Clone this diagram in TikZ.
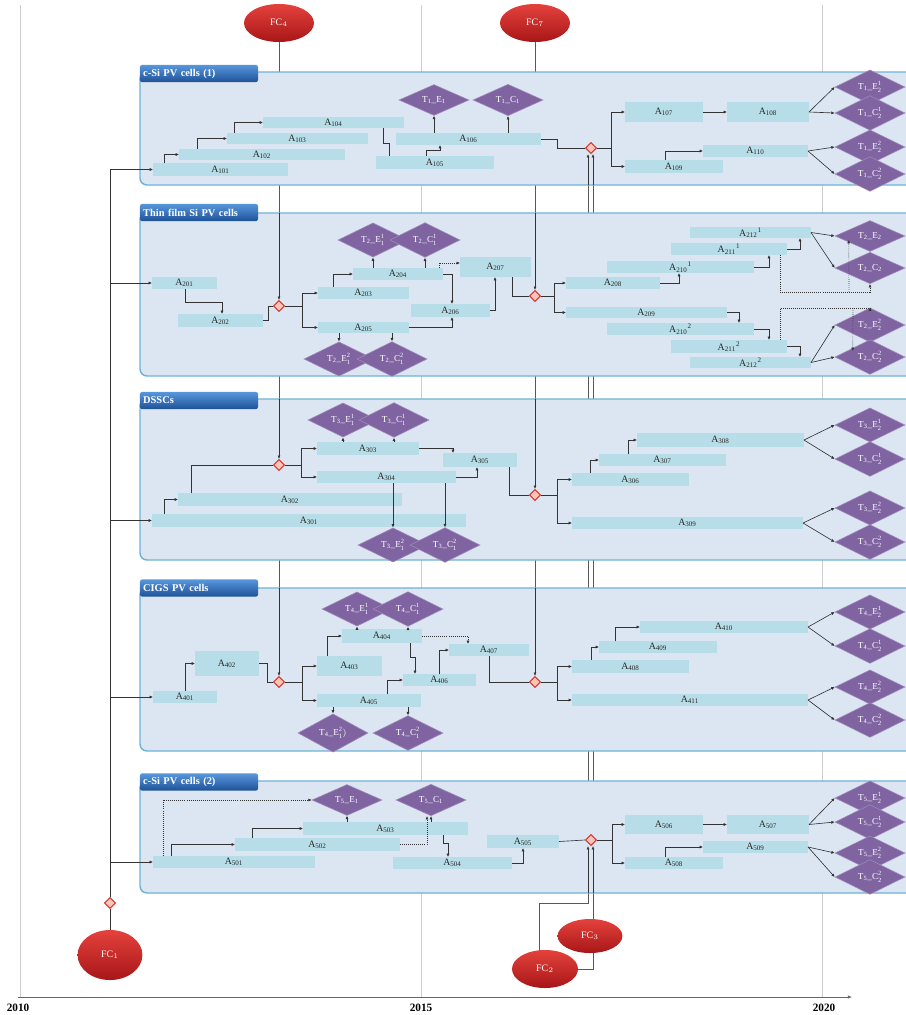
\documentclass[tikz,border=0pt]{standalone}
\usepackage{fontspec}
\setmainfont{Liberation Serif}
\usetikzlibrary{arrows.meta,calc,shapes.geometric}
\definecolor{PanelClr}{RGB}{220,230,242}
\definecolor{PanelLine}{RGB}{110,178,214}
\definecolor{BarClr}{RGB}{183,222,232}
\definecolor{TaskClr}{RGB}{128,100,162}
\definecolor{FcTop}{RGB}{228,66,60}
\definecolor{FcBot}{RGB}{168,22,24}
\definecolor{TabTop}{RGB}{88,150,220}
\definecolor{TabBot}{RGB}{30,82,152}
\definecolor{GridClr}{RGB}{205,205,205}
\definecolor{MergeLine}{RGB}{215,55,45}
\definecolor{MergeFill}{RGB}{250,196,186}
\pgfdeclarelayer{back}
\pgfdeclarelayer{mid}
\pgfsetlayers{back,mid,main}
\def\pxunit{0.025cm}
\newcommand{\Act}[6]{\node[bar,minimum width={(#3-#2)*\pxunit},minimum height={(#5-#4)*\pxunit}] (#1) at ({(#2+#3)/2},{(#4+#5)/2}) {$\mathrm{#6}$};}

\begin{document}
\begin{tikzpicture}[x=0.025cm,y=-0.025cm,
  bar/.style={fill=BarClr,inner sep=0,outer sep=0,text=black!85,font=\fontsize{7}{8}\selectfont},
  task/.style={diamond,fill=TaskClr,draw=TaskClr!75!white,line width=0.4pt,inner sep=0,
    minimum width=1.75cm,minimum height=0.62cm,text=white,font=\fontsize{6.5}{7}\selectfont},
  merge/.style={diamond,draw=MergeLine,fill=MergeFill,line width=0.7pt,inner sep=0,
    minimum width=0.28cm,minimum height=0.28cm},
  fc/.style={ellipse,inner sep=0,top color=FcTop,bottom color=FcBot,text=white,
    font=\fontsize{7}{8}\selectfont},
  panel/.style={rounded corners=5pt,fill=PanelClr,draw=PanelLine,line width=1pt,inner sep=0,outer sep=0},
  tab/.style={rounded corners=1.5pt,top color=TabTop,bottom color=TabBot,text=white,
    minimum width=2.95cm,minimum height=0.43cm,text width=2.79cm,align=left,inner xsep=0.08cm,
    inner ysep=0,font=\bfseries\fontsize{7.4}{8}\selectfont},
  year/.style={font=\bfseries\fontsize{8}{9}\selectfont},
  grid/.style={draw=GridClr,line width=0.5pt},
  link/.style={draw=black!80,line width=0.45pt},
  conn/.style={link,-{Latex[length=2.4pt,width=2.2pt]}},
  dotconn/.style={conn,densely dotted},
  fcline/.style={draw=black!65,line width=0.5pt}]
\useasboundingbox (0,0) rectangle (906,1015);

\begin{pgfonlayer}{back}
\draw[grid] (20,5) -- (20,997);
\draw[grid] (421,5) -- (421,997);
\draw[grid] (822,5) -- (822,997);
\draw[draw=black!60,line width=0.5pt,-{Latex[length=3pt,width=2.5pt]}] (18,997) -- (852,997);
\node[year] (y2010) at (18,1008) {2010};
\node[year] (y2015) at (421,1008) {2015};
\node[year] (y2020) at (824,1008) {2020};
\end{pgfonlayer}

\begin{pgfonlayer}{mid}
\node[panel,minimum width=780*\pxunit,minimum height=113*\pxunit] (p1) at (530,128.5) {};
\node[panel,minimum width=780*\pxunit,minimum height=163*\pxunit] (p2) at (530,294.5) {};
\node[panel,minimum width=780*\pxunit,minimum height=161*\pxunit] (p3) at (530,479.5) {};
\node[panel,minimum width=780*\pxunit,minimum height=163*\pxunit] (p4) at (530,669.5) {};
\node[panel,minimum width=780*\pxunit,minimum height=112*\pxunit] (p5) at (530,837) {};
\end{pgfonlayer}

\node[tab] (h1) at (199,73.5) {c-Si PV cells (1)};
\node[tab] (h2) at (199,212.5) {Thin film Si PV cells};
\node[tab] (h3) at (199,400.5) {DSSCs};
\node[tab] (h4) at (199,588) {CIGS PV cells};
\node[tab] (h5) at (199,782) {c-Si PV cells (2)};

\node[fc,minimum width=1.75cm,minimum height=0.95cm] (fc4) at (279,23) {FC$_4$};
\node[fc,minimum width=1.75cm,minimum height=0.95cm] (fc7) at (535,23) {FC$_7$};
\node[fc,minimum width=1.62cm,minimum height=1.25cm] (fc1) at (110,955) {FC$_1$};
\node[fc,minimum width=1.62cm,minimum height=0.85cm] (fc3) at (590,936) {FC$_3$};
\node[fc,minimum width=1.65cm,minimum height=0.95cm] (fc2) at (545,969) {FC$_2$};

\node[merge] (d0) at (110,903) {};
\node[merge] (m1) at (591,148) {};
\node[merge] (m21) at (279,306) {};
\node[merge] (m22) at (535,296) {};
\node[merge] (m31) at (279,465) {};
\node[merge] (m32) at (535,495) {};
\node[merge] (m41) at (279,682) {};
\node[merge] (m42) at (535,682) {};
\node[merge] (m5) at (591,840) {};
\coordinate (l1) at ($(m1.south)+(-3,0)$);
\coordinate (l2) at ($(m1.south)+(2,0)$);

\Act{a101}{153}{288}{163}{176}{A_{101}}
\Act{a102}{179}{345}{149}{160}{A_{102}}
\Act{a103}{227}{368}{133}{144}{A_{103}}
\Act{a104}{263}{404}{117}{128}{A_{104}}
\Act{a105}{376}{494}{156}{169}{A_{105}}
\Act{a106}{396}{541}{133}{145}{A_{106}}
\Act{a107}{625}{703}{102}{122}{A_{107}}
\Act{a108}{727}{809}{102}{122}{A_{108}}
\Act{a109}{625}{723}{160}{173}{A_{109}}
\Act{a110}{703}{808}{145}{157}{A_{110}}
\node[task] (t1e1) at (434,100) {$\mathrm{T_1\_E_1}$};
\node[task] (t1c1) at (508,100) {$\mathrm{T_1\_C_1}$};
\node[task] (t1e21) at (870,87) {$\mathrm{T_1\_E_2^1}$};
\node[task] (t1c21) at (870,113) {$\mathrm{T_1\_C_2^1}$};
\node[task] (t1e22) at (870,147) {$\mathrm{T_1\_E_2^2}$};
\node[task] (t1c22) at (870,174) {$\mathrm{T_1\_C_2^2}$};

\Act{a201}{152}{217}{277}{289}{A_{201}}
\Act{a202}{178}{263}{314}{327}{A_{202}}
\Act{a203}{318}{409}{287}{299}{A_{203}}
\Act{a204}{353}{443}{268}{280}{A_{204}}
\Act{a205}{318}{409}{322}{333}{A_{205}}
\Act{a206}{411}{490}{304}{317}{A_{206}}
\Act{a207}{460}{531}{257}{277}{A_{207}}
\Act{a208}{566}{660}{277}{289}{A_{208}}
\Act{a209}{566}{727}{307}{318}{A_{209}}
\Act{a2101}{607}{754}{261}{273}{A_{210}{}^1}
\Act{a2111}{671}{787}{243}{255}{A_{211}{}^1}
\Act{a2121}{690}{811}{227}{238}{A_{212}{}^1}
\Act{a2102}{607}{754}{323}{335}{A_{210}{}^2}
\Act{a2112}{671}{787}{340}{353}{A_{211}{}^2}
\Act{a2122}{690}{811}{357}{368}{A_{212}{}^2}
\node[task] (t2e11) at (373,240) {$\mathrm{T_2\_E_1^1}$};
\node[task] (t2c11) at (425,240) {$\mathrm{T_2\_C_1^1}$};
\node[task] (t2e12) at (339,359) {$\mathrm{T_2\_E_1^2}$};
\node[task] (t2c12) at (392,359) {$\mathrm{T_2\_C_1^2}$};
\node[task] (t2e2) at (870,236) {$\mathrm{T_2\_E_2}$};
\node[task] (t2c2) at (870,268) {$\mathrm{T_2\_C_2}$};
\node[task] (t2e22) at (870,325) {$\mathrm{T_2\_E_2^2}$};
\node[task] (t2c22) at (870,357) {$\mathrm{T_2\_C_2^2}$};

\Act{a301}{152}{466}{514}{527}{A_{301}}
\Act{a302}{178}{402}{493}{506}{A_{302}}
\Act{a303}{317}{419}{442}{455}{A_{303}}
\Act{a304}{317}{456}{471}{483}{A_{304}}
\Act{a305}{443}{517}{453}{467}{A_{305}}
\Act{a306}{572}{689}{473}{486}{A_{306}}
\Act{a307}{599}{726}{454}{466}{A_{307}}
\Act{a308}{637}{804}{433}{447}{A_{308}}
\Act{a309}{572}{803}{517}{529}{A_{309}}
\node[task] (t3e11) at (343,420) {$\mathrm{T_3\_E_1^1}$};
\node[task] (t3c11) at (394,420) {$\mathrm{T_3\_C_1^1}$};
\node[task] (t3e12) at (393,545) {$\mathrm{T_3\_E_1^2}$};
\node[task] (t3c12) at (445,545) {$\mathrm{T_3\_C_1^2}$};
\node[task] (t3e21) at (870,425) {$\mathrm{T_3\_E_2^1}$};
\node[task] (t3c21) at (870,459) {$\mathrm{T_3\_C_2^1}$};
\node[task] (t3e22) at (870,508) {$\mathrm{T_3\_E_2^2}$};
\node[task] (t3c22) at (870,542) {$\mathrm{T_3\_C_2^2}$};

\Act{a401}{153}{217}{691}{703}{A_{401}}
\Act{a402}{195}{259}{651}{676}{A_{402}}
\Act{a403}{317}{382}{656}{676}{A_{403}}
\Act{a404}{342}{422}{629}{643}{A_{404}}
\Act{a405}{317}{421}{694}{707}{A_{405}}
\Act{a406}{403}{476}{674}{686}{A_{406}}
\Act{a407}{449}{529}{644}{656}{A_{407}}
\Act{a408}{572}{689}{660}{673}{A_{408}}
\Act{a409}{599}{717}{641}{653}{A_{409}}
\Act{a410}{640}{808}{621}{633}{A_{410}}
\Act{a411}{572}{808}{694}{706}{A_{411}}
\node[task] (t4e11) at (357,609) {$\mathrm{T_4\_E_1^1}$};
\node[task] (t4c11) at (408,609) {$\mathrm{T_4\_C_1^1}$};
\node[task] (t4e12) at (333,733) {$\mathrm{T_4\_E_1^2)}$};
\node[task] (t4c12) at (408,733) {$\mathrm{T_4\_C_1^2}$};
\node[task] (t4e21) at (870,612) {$\mathrm{T_4\_E_2^1}$};
\node[task] (t4c21) at (870,646) {$\mathrm{T_4\_C_2^1}$};
\node[task] (t4e22) at (870,687) {$\mathrm{T_4\_E_2^2}$};
\node[task] (t4c22) at (870,720) {$\mathrm{T_4\_C_2^2}$};

\Act{a501}{153}{315}{856}{868}{A_{501}}
\Act{a502}{235}{400}{838}{851}{A_{502}}
\Act{a503}{303}{468}{822}{835}{A_{503}}
\Act{a504}{393}{512}{857}{869}{A_{504}}
\Act{a505}{487}{559}{835}{848}{A_{505}}
\Act{a506}{625}{703}{815}{834}{A_{506}}
\Act{a507}{727}{809}{815}{834}{A_{507}}
\Act{a508}{625}{723}{857}{869}{A_{508}}
\Act{a509}{703}{808}{841}{853}{A_{509}}
\node[task] (t5e1) at (347,800) {$\mathrm{T_5\_E_1}$};
\node[task] (t5c1) at (431,800) {$\mathrm{T_5\_C_1}$};
\node[task] (t5e21) at (870,798) {$\mathrm{T_5\_E_2^1}$};
\node[task] (t5c21) at (870,822) {$\mathrm{T_5\_C_2^1}$};
\node[task] (t5e22) at (870,853) {$\mathrm{T_5\_E_2^2}$};
\node[task] (t5c22) at (870,877) {$\mathrm{T_5\_C_2^2}$};

\draw[link] (fc1) -- (d0);
\draw[link] (d0) -- (a101.west -| d0);
\draw[conn] (a101.west -| d0) -- (a101.west);
\draw[conn] (a201.west -| d0) -- (a201.west);
\draw[conn] (a301.west -| d0) -- (a301.west);
\draw[conn] (a401.west -| d0) -- (a401.west);
\draw[conn] (a501.west -| d0) -- (a501.west);

\draw[conn] ($(a101.north west)+(11,0)$) |- (a102.west);
\draw[conn] ($(a102.north west)+(18,0)$) |- (a103.west);
\draw[conn] ($(a103.north west)+(7,0)$) |- (a104.west);
\draw[link] ($(a104.south east)+(-21,0)$) -- ++(0,15) -| ($(a105.north west)+(13,0)$);
\draw[conn] ($(a105.north west)+(50,0)$) -- ++(0,-6) -| ($(a106.south west)+(44,0)$);
\draw[conn] (a106.north -| t1e1) -- (t1e1.south);
\draw[conn] (a106.north -| t1c1) -- (t1c1.south);
\draw[link] (a106.east) -- ++(16,0) |- (m1.west);
\draw[conn] (m1.east) -- ++(14,0) |- (a107.west);
\draw[conn] (m1.east) -- ++(14,0) |- (a109.west);
\draw[conn] (a107) -- (a108);
\draw[conn] ($(a109.north west)+(40,0)$) |- (a110.west);
\draw[conn] (a108.east) -- (t1e21.west);
\draw[conn] (a108.east) -- (t1c21.west);
\draw[conn] (a110.east) -- (t1e22.west);
\draw[conn] (a110.east) -- (t1c22.west);
\draw[conn] (l1 |- p1.south) -- (l1);
\draw[conn] (l2 |- p1.south) -- (l2);

\draw[conn] ($(a201.south west)+(33,0)$) -- ++(0,13) -| ($(a202.north west)+(44,0)$);
\draw[link] (a202.east) -- ++(5,0) |- (m21.west);
\draw[conn] (m21 |- p2.north) -- (m21.north);
\draw[conn] (m21.east) -- ++(17,0) |- (a203.west);
\draw[conn] (m21.east) -- ++(17,0) |- (a205.west);
\draw[conn] ($(a203.north west)+(15,0)$) |- (a204.west);
\draw[conn] (a204.north -| t2e11) -- (t2e11.south);
\draw[conn] (a204.north -| t2c11) -- (t2c11.south);
\draw[conn] (a205.south -| t2e12) -- (t2e12.north);
\draw[conn] (a205.south -| t2c12) -- (t2c12.north);
\draw[conn] (a204.east) -| ($(a206.north west)+(41,0)$);
\draw[conn] (a205.east) -| ($(a206.south west)+(41,0)$);
\draw[dotconn] ($(a204.north east)+(-4,0)$) |- ($(a207.west)+(0,-4)$);
\draw[conn] (a206.east) -| ($(a207.south west)+(35,0)$);
\draw[link] ($(a207.south east)+(-19,0)$) |- (m22.west);
\draw[conn] (m22 |- p2.north) -- (m22.north);
\draw[conn] (m22.east) -- ++(13,0) |- (a208.west);
\draw[conn] (m22.east) -- ++(13,0) |- (a209.west);
\draw[conn] (a208.east) -| ($(a2101.south west)+(72,0)$);
\draw[conn] (a2101.east) -| ($(a2111.south west)+(98,0)$);
\draw[conn] (a2111.east) -| ($(a2121.south west)+(110,0)$);
\draw[conn] (a2121.east) -- (t2e2.west);
\draw[conn] (a2121.east) -- (t2c2.west);
\draw[dotconn] ($(a2111.south east)+(-7,0)$) -- ++(0,37) -| (t2c2.south);
\draw[dotconn] ($(a2111.south east)+(62,37)$) -- ($(t2e2.west)+(14,4)$);
\draw[conn] (a209.east) -| ($(a2102.north west)+(132,0)$);
\draw[conn] (a2102.east) -| ($(a2112.north west)+(98,0)$);
\draw[conn] (a2112.east) -| ($(a2122.north west)+(110,0)$);
\draw[conn] (a2122.east) -- (t2e22.west);
\draw[conn] (a2122.east) -- (t2c22.west);
\draw[dotconn] ($(a2112.north east)+(-7,0)$) -- ++(0,-32) -| (t2e22.north);
\draw[dotconn] ($(a2112.north east)+(66,-32)$) -- ($(t2c22.west)+(18,-6)$);

\draw[conn] ($(a301.north west)+(12,0)$) |- (a302.west);
\draw[link] ($(a302.north west)+(13,0)$) |- (m31.west);
\draw[conn] (m31 |- p3.north) -- (m31.north);
\draw[conn] (m31.east) -- ++(16,0) |- (a303.west);
\draw[conn] (m31.east) -- ++(16,0) |- (a304.west);
\draw[conn] (a303.north -| t3e11) -- (t3e11.south);
\draw[conn] (a303.north -| t3c11) -- (t3c11.south);
\draw[conn] (a304.south -| t3e12) -- (t3e12.north);
\draw[conn] (a304.south -| t3c12) -- (t3c12.north);
\draw[conn] (a303.east) -| ($(a305.north west)+(10,0)$);
\draw[conn] (a304.east) -| ($(a305.south west)+(34,0)$);
\draw[link] ($(a305.south east)+(-8,0)$) |- (m32.west);
\draw[conn] (m32 |- p3.north) -- (m32.north);
\draw[conn] (m32.east) -- ++(16,0) |- (a306.west);
\draw[conn] (m32.east) -- ++(16,0) |- (a309.west);
\draw[conn] ($(a306.north west)+(18,0)$) |- (a307.west);
\draw[conn] ($(a307.north west)+(29,0)$) |- (a308.west);
\draw[conn] (a308.east) -- (t3e21.west);
\draw[conn] (a308.east) -- (t3c21.west);
\draw[conn] (a309.east) -- (t3e22.west);
\draw[conn] (a309.east) -- (t3c22.west);

\draw[conn] ($(a401.north west)+(32,0)$) |- (a402.west);
\draw[link] (a402.east) -- ++(8,0) |- (m41.west);
\draw[conn] (m41 |- p4.north) -- (m41.north);
\draw[conn] (m41.east) -- ++(17,0) |- (a403.west);
\draw[conn] (m41.east) -- ++(17,0) |- (a405.west);
\draw[conn] ($(a403.north west)+(10,0)$) |- (a404.west);
\draw[conn] (a404.north -| t4e11) -- (t4e11.south);
\draw[conn] (a404.north -| t4c11) -- (t4c11.south);
\draw[conn] (a405.south -| t4e12) -- (t4e12.north);
\draw[conn] (a405.south -| t4c12) -- (t4c12.north);
\draw[conn] ($(a404.south west)+(68,0)$) -- ++(0,14) -| ($(a406.north west)+(12,0)$);
\draw[conn] ($(a405.north west)+(70,0)$) |- (a406.west);
\draw[dotconn] (a404.east) -| ($(a407.north west)+(19,0)$);
\draw[conn] ($(a406.north west)+(36,0)$) |- (a407.west);
\draw[link] ($(a407.south west)+(40,0)$) |- (m42.west);
\draw[conn] (m42 |- p4.north) -- (m42.north);
\draw[conn] (m42.east) -- ++(16,0) |- (a408.west);
\draw[conn] (m42.east) -- ++(16,0) |- (a411.west);
\draw[conn] ($(a408.north west)+(19,0)$) |- (a409.west);
\draw[conn] ($(a409.north west)+(16,0)$) |- (a410.west);
\draw[conn] (a410.east) -- (t4e21.west);
\draw[conn] (a410.east) -- (t4c21.west);
\draw[conn] (a411.east) -- (t4e22.west);
\draw[conn] (a411.east) -- (t4c22.west);

\draw[conn] ($(a501.north west)+(18,0)$) |- (a502.west);
\draw[conn] ($(a502.north west)+(17,0)$) |- (a503.west);
\draw[dotconn] ($(a501.north west)+(10,0)$) |- (t5e1.west);
\draw[conn] (a503.north -| t5e1) -- (t5e1.south);
\draw[conn] (a503.north -| t5c1) -- (t5c1.south);
\draw[dotconn] (a502.east) -| ($(t5c1.south)+(-4,0)$);
\draw[conn] ($(a503.south west)+(140,0)$) -- ++(0,8) -| ($(a504.north west)+(55,0)$);
\draw[conn] (a504.east) -| ($(a505.south west)+(36,0)$);
\draw[link] (a505.east) -- (m5.west);
\draw[conn] (l1 |- p5.south) -- (l1 |- m5.south);
\draw[conn] (l2 |- p5.south) -- (l2 |- m5.south);
\draw[conn] (m5.east) -- ++(15,0) |- (a506.west);
\draw[conn] (m5.east) -- ++(15,0) |- (a508.west);
\draw[conn] (a506) -- (a507);
\draw[conn] ($(a508.north west)+(40,0)$) |- (a509.west);
\draw[conn] (a507.east) -- (t5e21.west);
\draw[conn] (a507.east) -- (t5c21.west);
\draw[conn] (a509.east) -- (t5e22.west);
\draw[conn] (a509.east) -- (t5c22.west);

\begin{pgfonlayer}{back}
\draw[fcline] (fc4) -- (m41);
\draw[fcline] (fc7) -- (m42);
\draw[fcline] ($(fc2.north)+(-6,1)$) -- ++(0,-47) -| (l1);
\draw[fcline] (fc2.east) -| (l2);
\end{pgfonlayer}
\end{tikzpicture}
\end{document}
